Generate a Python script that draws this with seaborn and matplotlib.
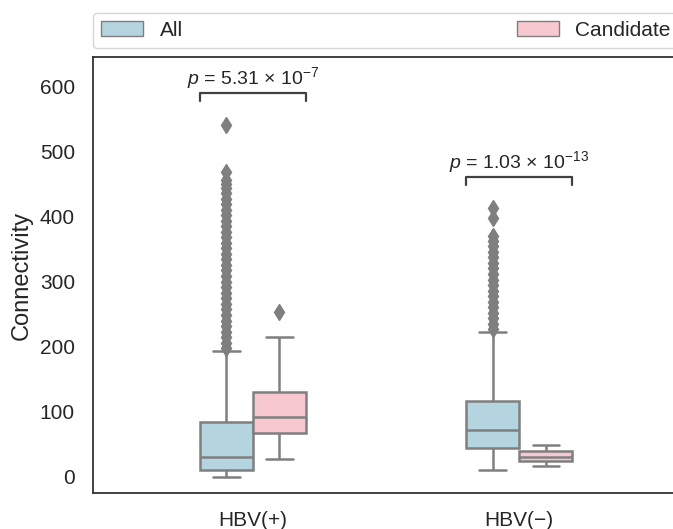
import matplotlib
matplotlib.use("Agg")
import numpy as np
import pandas as pd
import matplotlib.pyplot as plt
import seaborn as sns

groups = ["HBV(+)", "HBV(\u2212)"]
sets = ["All", "Candidate"]
colors = ["lightblue", "pink"]

# box summary: low whisker, Q1, median, Q3, high whisker
pos_all_box = [0, 10, 30, 84, 193]
pos_cand_box = [28, 67, 92, 130, 214]
neg_all_box = [10, 44, 72, 116, 222]
neg_cand_box = [17, 23.5, 31, 40, 49]

# outlier diamonds (the dense columns are read as evenly packed points)
pos_all_out = [198, 206, 215, 223, 232, 240, 249, 257, 266, 274, 283, 291,
               300, 308, 317, 325, 334, 342, 351, 359, 368, 376, 385, 393,
               402, 410, 419, 427, 436, 444, 450, 456, 469, 541]
pos_cand_out = [253]
neg_all_out = [227, 235, 244, 252, 261, 269, 278, 286, 295, 303, 312, 320,
               329, 337, 346, 354, 362, 370, 397, 413]
neg_cand_out = []

# p-value annotations
p_vals = ["5.31", "1.03"]
p_exps = ["-7", "-13"]
bracket_y = [578, 449]
bracket_h = 12


def expand(box, out):
    # rebuild a sample whose quartiles/whiskers equal the read summary
    lo, q1, med, q3, hi = box
    k = 2 * len(out) + 4
    return [lo] + [q1] * k + [med] * k + [q3] * k + [hi] + list(out)


rows = []
for g, s, box, out in [
    (groups[0], sets[0], pos_all_box, pos_all_out),
    (groups[0], sets[1], pos_cand_box, pos_cand_out),
    (groups[1], sets[0], neg_all_box, neg_all_out),
    (groups[1], sets[1], neg_cand_box, neg_cand_out),
]:
    for v in expand(box, out):
        rows.append({"group": g, "set": s, "value": v})
df = pd.DataFrame(rows)

sns.set_style("white")
plt.rcParams["font.family"] = ["Liberation Sans", "DejaVu Sans"]
plt.rcParams["mathtext.fontset"] = "custom"
plt.rcParams["mathtext.rm"] = "Liberation Sans"
plt.rcParams["mathtext.it"] = "Liberation Sans:italic"
plt.rcParams["mathtext.default"] = "regular"

gray = "#7f7f7f"
fig = plt.figure(figsize=(6.73, 5.29), dpi=100)
ax = fig.add_axes([93 / 673, 36 / 529, 586 / 673, 436 / 529])

sns.boxplot(data=df, x="group", y="value", hue="set", order=groups,
            hue_order=sets, palette=colors, width=0.4, linewidth=1.8,
            linecolor=gray,
            flierprops=dict(marker="d", markerfacecolor=gray,
                            markeredgecolor=gray, markersize=8.5),
            ax=ax)

ax.set_xlim(-0.6, 1.6)
ax.set_ylim(-25, 645)
ax.set_yticks([0, 100, 200, 300, 400, 500, 600])
ax.set_xlabel("")
ax.set_ylabel("Connectivity", fontsize=17, labelpad=5)
ax.tick_params(axis="both", length=0, pad=13, labelsize=15)
for sp in ax.spines.values():
    sp.set_color("#333333")
    sp.set_linewidth(1.3)

# significance brackets
for i in range(2):
    y, h = bracket_y[i], bracket_h
    ax.plot([i - 0.2, i - 0.2, i + 0.2, i + 0.2], [y, y + h, y + h, y],
            lw=1.6, c="#404040")
    ax.text(i, y + h + 13,
            r"$\it{p}$ = " + p_vals[i] + r" $\times$ 10$^{" + p_exps[i].replace("-", "\u2212") + "}$",
            ha="center", va="baseline", fontsize=14, color="#262626")

old = ax.get_legend()
handles = old.legend_handles
labels = [t.get_text() for t in old.texts]
for hnd in handles:
    hnd.set_linewidth(1.0)
ax.legend(handles, labels, loc="lower left", bbox_to_anchor=(0, 1.02, 1, 0.102),
          mode="expand", ncol=2, borderaxespad=0, fontsize=15, frameon=True)

fig.savefig("out.png", dpi=100)
